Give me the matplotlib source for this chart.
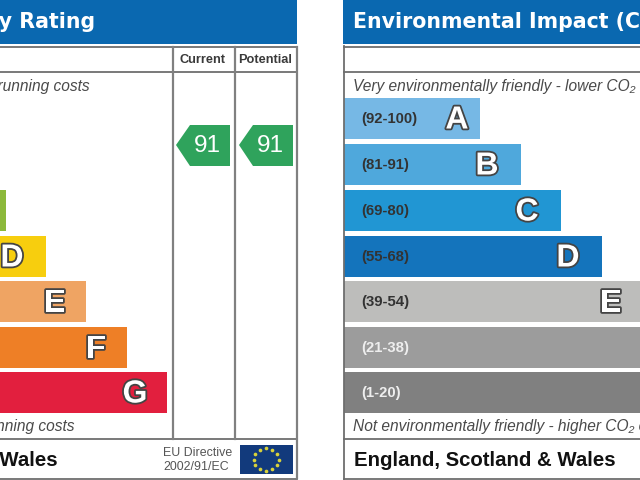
import numpy as np
import matplotlib
matplotlib.use("Agg")
import matplotlib.pyplot as plt
import matplotlib.patheffects as pe
from matplotlib.patches import Polygon, Rectangle

plt.rcParams['font.family'] = ['Liberation Sans', 'DejaVu Sans']

bands = ['A', 'B', 'C', 'D', 'E', 'F', 'G']
ranges = ['(92-100)', '(81-91)', '(69-80)', '(55-68)', '(39-54)', '(21-38)', '(1-20)']
left_ends = [-75, -34, 6, 46, 86, 127, 167]
right_ends = [480, 521, 561, 602, 642, 683, 723]
left_colors = ['#1A9A54', '#3FAE4E', '#8CB93B', '#F7CE0E', '#EFA463', '#EE7F26', '#E21F3E']
right_colors = ['#76B8E5', '#4FA8DC', '#2196D3', '#1474BC', '#BDBDBB', '#9C9C9C', '#808080']
range_colors = ['#333', '#333', '#333', '#333', '#333', '#eee', '#eee']
band_tops = [98, 144, 190, 236, 281, 327, 372]
band_height = 41
letter_offsets = [23, 34, 34, 34, 31, 31, 32]
current = 91
potential = 91

BLUE = '#0A68B0'
LINE = '#6E6E6E'

fig = plt.figure(figsize=(6.4, 4.8), dpi=100)
ax = fig.add_axes([0, 0, 1, 1])
ax.set_xlim(0, 640)
ax.set_ylim(480, 0)
ax.axis('off')

centers = np.array(band_tops) + band_height / 2
ax.barh(centers, np.array(left_ends) + 211, left=-211, height=band_height, color=left_colors)
ax.barh(centers, np.array(right_ends) - 344, left=344, height=band_height, color=right_colors)

# headers
ax.add_patch(Rectangle((-211, 0), 508, 43.5, color=BLUE, lw=0))
ax.add_patch(Rectangle((343, 0), 400, 43.5, color=BLUE, lw=0))
title = dict(va='center', color='white', fontsize=14.8, fontweight='bold',
             family=['DejaVu Sans'])
ax.text(95, 22, 'Energy Efficiency Rating', ha='right', **title)
ax.text(353, 22, 'Environmental Impact (CO₂) Rating', ha='left', **title)

# frame lines
for y in (46.5, 72, 439, 478.5):
    ax.plot([-5, 297], [y, y], color=LINE, lw=1.3)
    ax.plot([343.5, 645], [y, y], color=LINE, lw=1.3)
for x in (172.5, 235, 296.5):
    ax.plot([x, x], [47, 478 if x == 296.5 else 439], color='#808080', lw=1.6)
ax.plot([343.5, 343.5], [46, 479], color=LINE, lw=1.3)

ax.text(202, 60, 'Current', ha='center', va='center', fontsize=9.2, fontweight='bold', color='#3a3a3a')
ax.text(265.5, 60, 'Potential', ha='center', va='center', fontsize=9.2, fontweight='bold', color='#3a3a3a')

# captions
cap = dict(fontsize=11.2, style='italic', color='#4a4a4a', va='center')
ax.text(90, 86, 'Very energy efficient - lower running costs', ha='right', **cap)
ax.text(75, 427, 'Not energy efficient - higher running costs', ha='right', **cap)
ax.text(353, 86, 'Very environmentally friendly - lower CO₂ emissions', ha='left', **cap)
ax.text(353, 427, 'Not environmentally friendly - higher CO₂ emissions', ha='left', **cap)

# letters and range labels
stroke = [pe.withStroke(linewidth=2.6, foreground='#444444')]
for i, b in enumerate(bands):
    ax.text(left_ends[i] - letter_offsets[i], centers[i] + 2, b, ha='center', va='center', color='white',
            fontsize=23, fontweight='bold', path_effects=stroke, clip_on=True)
    ax.text(right_ends[i] - letter_offsets[i], centers[i] + 2, b, ha='center', va='center', color='white',
            fontsize=23, fontweight='bold', path_effects=stroke, clip_on=True)
    ax.text(361.5, centers[i] + 0.5, ranges[i], ha='left', va='center', color=range_colors[i],
            fontsize=10.7, fontweight='bold')

# rating arrows
for x0, val in ((176, current), (239, potential)):
    ax.add_patch(Polygon([(x0, 145), (x0 + 14, 125), (x0 + 54, 125), (x0 + 54, 166), (x0 + 14, 166)],
                         closed=True, color='#2FA35C', lw=0))
    ax.text(x0 + 31, 146, str(val), ha='center', va='center', color='white', fontsize=17.5)

# footers
foot = dict(va='center', fontsize=14.7, fontweight='bold', color='#111111')
ax.text(58, 460, 'England, Scotland & Wales', ha='right', **foot)
ax.text(354, 460, 'England, Scotland & Wales', ha='left', **foot)
ax.text(163, 452.5, 'EU Directive', ha='left', va='center', fontsize=8.9, color='#555555')
ax.text(163, 467, '2002/91/EC', ha='left', va='center', fontsize=8.9, color='#555555')

# EU flag
ax.add_patch(Rectangle((240, 445), 52.5, 29, color='#123A7C', lw=0))
angles = np.deg2rad(np.arange(0, 360, 30))
ax.scatter(266 + 12.5 * np.cos(angles), 459.5 + 11.5 * np.sin(angles), s=7, marker='o',
           color='#D9D23A', linewidths=0, zorder=3)

fig.savefig('out.png', dpi=100)
